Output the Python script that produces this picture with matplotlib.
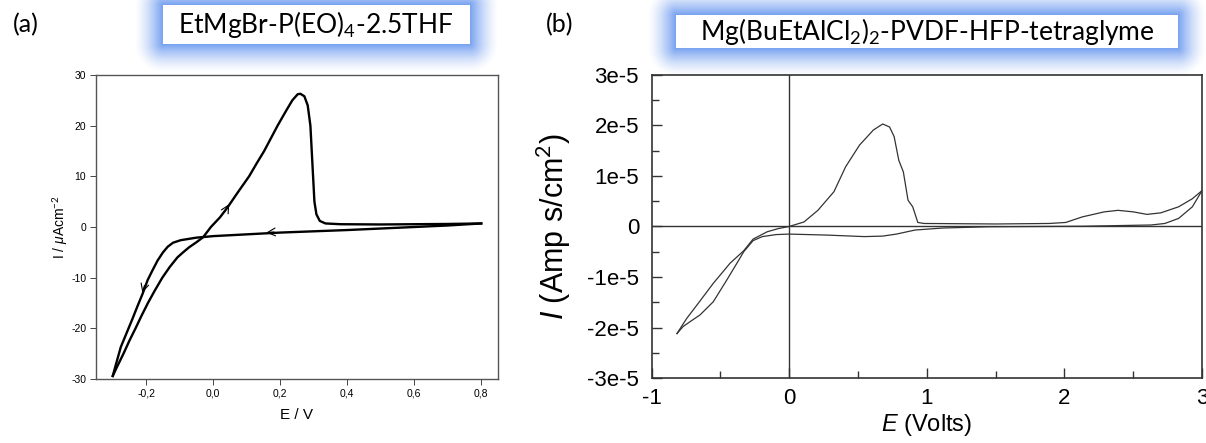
import numpy as np
import matplotlib
matplotlib.use("Agg")
import matplotlib.pyplot as plt
from matplotlib.patches import Rectangle
from matplotlib.ticker import MultipleLocator

# (a) EtMgBr-P(EO)4-2.5THF, I in uA/cm2
E_fwd = [-0.300, -0.285, -0.268, -0.250, -0.232, -0.214, -0.195, -0.175, -0.152,
         -0.130, -0.107, -0.090, -0.072, -0.050, -0.030, -0.007, 0.020, 0.043,
         0.075, 0.107, 0.130, 0.152, 0.172, 0.192, 0.218, 0.236, 0.252, 0.260,
         0.272, 0.282, 0.290, 0.294, 0.298, 0.302, 0.308, 0.318, 0.335, 0.380,
         0.500, 0.600, 0.700, 0.800]
I_fwd = [-29.4, -27.3, -25.0, -22.4, -20.0, -17.5, -15.0, -12.6, -10.0,
         -7.9, -6.0, -5.0, -4.0, -3.0, -2.0, 0.0, 1.9, 3.9,
         7.0, 10.0, 12.6, 15.0, 17.5, 20.0, 23.0, 25.0, 26.2, 26.3,
         25.8, 24.0, 20.0, 15.0, 10.0, 5.0, 2.5, 1.2, 0.7, 0.55,
         0.5, 0.55, 0.6, 0.7]
E_rev = [0.800, 0.700, 0.600, 0.500, 0.400, 0.300, 0.200, 0.100, 0.000, -0.050,
         -0.097, -0.120, -0.136, -0.150, -0.166, -0.181, -0.196, -0.211, -0.226,
         -0.241, -0.256, -0.276, -0.290, -0.300]
I_rev = [0.7, 0.3, 0.0, -0.3, -0.6, -0.85, -1.1, -1.45, -1.8, -2.1,
         -2.6, -3.1, -3.9, -5.0, -6.6, -8.5, -10.5, -13.2, -15.6,
         -18.1, -20.5, -23.7, -27.0, -29.4]

# (b) Mg(BuEtAlCl2)2-PVDF-HFP-tetraglyme, I in units of 1e-5 A/cm2
E_up = [-0.815, -0.744, -0.660, -0.551, -0.430, -0.330, -0.262, -0.160, -0.077,
        0.000, 0.108, 0.209, 0.326, 0.410, 0.511, 0.612, 0.680, 0.730, 0.763,
        0.797, 0.830, 0.864, 0.898, 0.922, 0.935, 0.980, 1.500, 1.890, 2.010,
        2.130, 2.290, 2.390, 2.500, 2.600, 2.700, 2.830, 2.930, 3.000]
I_up = [-2.12, -1.82, -1.52, -1.125, -0.73, -0.48, -0.25, -0.105, -0.04,
        0.0, 0.09, 0.32, 0.69, 1.18, 1.61, 1.91, 2.03, 1.97, 1.78,
        1.31, 1.08, 0.52, 0.39, 0.19, 0.08, 0.06, 0.05, 0.06, 0.08,
        0.19, 0.29, 0.32, 0.29, 0.24, 0.27, 0.39, 0.55, 0.71]
E_down = [-0.815, -0.770, -0.720, -0.647, -0.551, -0.453, -0.380, -0.330, -0.262,
          -0.195, -0.094, 0.000, 0.276, 0.545, 0.680, 0.780, 0.915, 1.117, 1.450,
          2.130, 2.630, 2.730, 2.830, 2.930, 3.000]
I_down = [-2.12, -1.98, -1.885, -1.75, -1.49, -1.06, -0.73, -0.50, -0.28,
          -0.20, -0.16, -0.15, -0.17, -0.20, -0.19, -0.15, -0.07, -0.03, -0.005,
          0.005, 0.03, 0.06, 0.16, 0.39, 0.71]

W, H = 1206, 443
plt.rcParams["font.family"] = ["Liberation Sans", "DejaVu Sans"]
plt.rcParams["axes.unicode_minus"] = False
plt.rcParams["mathtext.fontset"] = "custom"
plt.rcParams["mathtext.rm"] = "Lato"
plt.rcParams["mathtext.it"] = "Liberation Sans:italic"
fig = plt.figure(figsize=(W / 100, H / 100), dpi=100)

# background layer for the glowing title boxes (pixel coordinates)
bg = fig.add_axes([0, 0, 1, 1], zorder=0)
bg.set_xlim(0, W)
bg.set_ylim(H, 0)
bg.axis("off")

boxes = [(163, 5, 470, 44), (676, 15, 1178, 48)]
yy, xx = np.mgrid[0:H, 0:W] + 0.5
alpha = np.zeros((H, W))
for x0, y0, x1, y1 in boxes:
    dx = np.maximum(np.maximum(x0 - xx, xx - x1), 0)
    dy = np.maximum(np.maximum(y0 - yy, yy - y1), 0)
    d = np.hypot(dx, dy)
    alpha = np.maximum(alpha, np.clip(1 - d / 29, 0, 1) ** 1.5 * 0.85)
glow = np.zeros((H, W, 4))
glow[..., 0] = 95 / 255
glow[..., 1] = 145 / 255
glow[..., 2] = 238 / 255
glow[..., 3] = alpha
bg.imshow(glow, extent=(0, W, H, 0), interpolation="bilinear")
for x0, y0, x1, y1 in boxes:
    bg.add_patch(Rectangle((x0, y0), x1 - x0, y1 - y0, facecolor="white",
                           edgecolor="none"))

title_font = ["Lato", "DejaVu Sans"]
bg.text(26, 25, "(a)", fontsize=18, family=title_font, ha="center", va="center")
bg.text(316, 24, r"EtMgBr-P(EO)$_4$-2.5THF", fontsize=19, family=title_font,
        ha="center", va="center")
bg.text(560, 25, "(b)", fontsize=18, family=title_font, ha="center", va="center")
bg.text(927, 31, r"Mg(BuEtAlCl$_2$)$_2$-PVDF-HFP-tetraglyme", fontsize=19,
        family=title_font, ha="center", va="center")

# (a)
ax1 = fig.add_axes([96 / W, 1 - 379 / H, (498 - 96) / W, (379 - 75) / H], zorder=1)
ax1.set_facecolor("none")
ax1.plot(E_fwd, I_fwd, color="black", lw=1.7)
ax1.plot(E_rev, I_rev, color="black", lw=1.7)
arrow = dict(arrowstyle="->", color="black", lw=0.8, mutation_scale=14)
ax1.annotate("", xy=(0.052, 5.0), xytext=(0.030, 2.5), arrowprops=arrow)
ax1.annotate("", xy=(0.150, -1.15), xytext=(0.190, -0.95), arrowprops=arrow)
ax1.annotate("", xy=(-0.214, -13.5), xytext=(-0.203, -11.0), arrowprops=arrow)
ax1.set_xlim(-0.35, 0.85)
ax1.set_ylim(-30, 30)
ax1.set_xticks([-0.2, 0.0, 0.2, 0.4, 0.6, 0.8])
ax1.set_xticklabels(["-0,2", "0,0", "0,2", "0,4", "0,6", "0,8"])
ax1.set_yticks([-30, -20, -10, 0, 10, 20, 30])
ax1.tick_params(direction="out", length=4, width=0.7, labelsize=7.5, pad=3,
                color="#444")
for s in ax1.spines.values():
    s.set_color("#555")
    s.set_linewidth(1.0)
ax1.set_xlabel("E / V", fontsize=11, labelpad=7)
ax1.set_ylabel(r"I / $\mu$Acm$^{-2}$", fontsize=10, labelpad=1)

# (b)
ax2 = fig.add_axes([651.5 / W, 1 - 378 / H, (1202 - 651.5) / W, (378 - 75) / H],
                   zorder=1)
ax2.set_facecolor("none")
ax2.axhline(0, color="#333", lw=1.0)
ax2.axvline(0, color="#333", lw=1.0)
ax2.plot(E_up, np.array(I_up) * 1e-5, color="#333", lw=0.9)
ax2.plot(E_down, np.array(I_down) * 1e-5, color="#333", lw=0.9)
ax2.set_xlim(-1, 3)
ax2.set_ylim(-3e-5, 3e-5)
ax2.set_xticks([-1, 0, 1, 2, 3])
ax2.set_yticks([-3e-5, -2e-5, -1e-5, 0, 1e-5, 2e-5, 3e-5])
ax2.set_yticklabels(["-3e-5", "-2e-5", "-1e-5", "0", "1e-5", "2e-5", "3e-5"])
ax2.xaxis.set_minor_locator(MultipleLocator(0.5))
ax2.yaxis.set_minor_locator(MultipleLocator(0.5e-5))
ax2.tick_params(which="major", direction="in", length=7, width=1.0,
                labelsize=16, pad=7, color="#333")
ax2.tick_params(which="minor", direction="in", length=5, width=1.0, color="#333")
ax2.tick_params(axis="y", which="major", pad=9)
for s in ax2.spines.values():
    s.set_color("#333")
    s.set_linewidth(1.2)
ax2.set_xlabel(r"$E$ (Volts)", fontsize=17, labelpad=2)
ax2.set_ylabel(r"$I$ (Amp s/cm$^{2}$)", fontsize=22, labelpad=10)

fig.savefig("out.png", dpi=100)
